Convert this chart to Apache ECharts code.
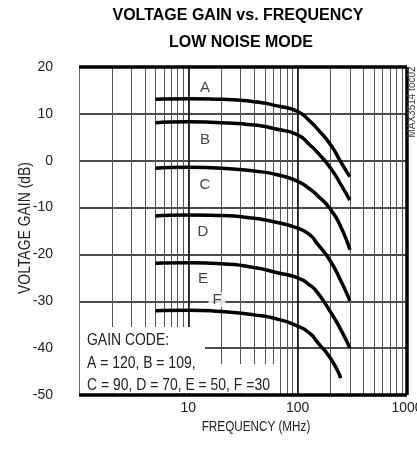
<!DOCTYPE html>
<html>
<head>
<meta charset="utf-8">
<script src="https://cdn.jsdelivr.net/npm/echarts@6/dist/echarts.min.js"></script>
<style>
html,body{margin:0;padding:0;background:#fff;}
#c{width:417px;height:452px;}
</style>
</head>
<body>
<div id="c"></div>
<script>
// ---- data ----
const freqs = [5, 10, 20, 40, 65, 100, 130, 150, 200, 250, 300];
const freqsF = [5, 10, 20, 40, 65, 100, 130, 150, 200, 248];
const curveA = [13.1, 13.2, 13.1, 12.6, 11.7, 10.5, 8.4, 6.9, 3.4, -0.4, -3.4];
const curveB = [8.1, 8.3, 8.1, 7.6, 6.7, 5.5, 3.3, 1.9, -1.6, -5.2, -8.4];
const curveC = [-1.6, -1.4, -1.6, -2.2, -3.0, -4.4, -6.1, -7.3, -10.4, -14.3, -19.0];
const curveD = [-11.8, -11.6, -11.7, -12.3, -13.2, -14.4, -15.9, -17.6, -21.5, -25.8, -29.9];
const curveE = [-21.9, -21.8, -22.0, -22.8, -23.9, -25.0, -26.6, -28.0, -32.3, -36.2, -40.0];
const curveF = [-32.0, -31.9, -32.2, -32.9, -33.8, -35.3, -36.9, -38.6, -42.2, -46.4];
const curveNames = ['A', 'B', 'C', 'D', 'E', 'F'];
const labelFreq = [14.2, 14.2, 14.2, 13.6, 13.6, 18.3];
const labelGain = [15.5, 4.4, -5.2, -15.2, -25.2, -29.7];
const minorFreqs = [2,3,4,5,6,7,8,9,20,30,40,50,60,70,80,90,200,300,400,500,600,700,800,900];
const xTickLabels = ['10', '100', '1000'];
const yMin = -50, yMax = 20, yStep = 10;
const titleLines = ['VOLTAGE GAIN vs. FREQUENCY', 'LOW NOISE MODE'];
const legendLines = ['GAIN CODE:', 'A = 120, B = 109,', 'C = 90, D = 70, E = 50, F =30'];

const SANS = "'Liberation Sans',Arial,sans-serif";

function pairs(xs, ys) { return xs.map((x, i) => [x, ys[i]]); }
const curves = [curveA, curveB, curveC, curveD, curveE, curveF];
const curveSeries = curves.map((c, i) => ({
  type: 'line',
  name: curveNames[i],
  data: pairs(i === 5 ? freqsF : freqs, c),
  smooth: 0.6,
  symbol: 'none',
  lineStyle: { color: '#000', width: 3.5 },
  z: 5,
  animation: false
}));

const minorLines = minorFreqs.map(f => ({ xAxis: f, lineStyle: { color: '#555', width: 1, type: 'solid' } }));
const decadeLines = [10, 100].map(f => ({ xAxis: f, lineStyle: { color: '#111', width: 1.6, type: 'solid' } }));
const borderLines = [
  { xAxis: 1000, lineStyle: { color: '#000', width: 3.5, type: 'solid' } },
  { yAxis: yMax, lineStyle: { color: '#000', width: 3.5, type: 'solid' } },
  { yAxis: yMin, lineStyle: { color: '#000', width: 3.5, type: 'solid' } }
];

function ntext(x, y, text, size, sx, extra) {
  return Object.assign({
    type: 'text', x: x, y: y, z: 60, scaleX: sx,
    style: { text: text, align: 'left', verticalAlign: 'middle', font: size + 'px ' + SANS, fill: '#222' }
  }, extra || {});
}

const option = {
  backgroundColor: '#fff',
  animation: false,
  grid: { left: 79, right: 10, top: 67, bottom: 57, outerBoundsMode: 'none', containLabel: false },
  xAxis: {
    type: 'log', logBase: 10, min: 1, max: 1000,
    axisLine: { show: false },
    axisTick: { show: false },
    splitLine: { show: true, lineStyle: { color: '#666', width: 1 } },
    axisLabel: {
      margin: 6,
      fontFamily: SANS, fontSize: 14, color: '#222',
      formatter: v => (xTickLabels.indexOf(String(v)) >= 0 ? String(v) : '')
    }
  },
  yAxis: {
    type: 'value', min: yMin, max: yMax, interval: yStep,
    axisLine: { show: false },
    axisTick: { show: false },
    splitLine: { show: true, lineStyle: { color: '#111', width: 1.5 } },
    axisLabel: { margin: 26, fontFamily: SANS, fontSize: 14, color: '#222' }
  },
  series: [
    {
      type: 'line', data: [], silent: true,
      markLine: {
        silent: true, symbol: 'none', animation: false,
        label: { show: false },
        data: minorLines.concat(decadeLines, borderLines)
      },
      z: 3
    }
  ].concat(curveSeries, [
    {
      type: 'scatter',
      symbolSize: 1,
      itemStyle: { color: 'rgba(0,0,0,0)' },
      silent: true,
      z: 20,
      data: curveNames.map((n, i) => ({
        value: [labelFreq[i], labelGain[i]],
        name: n,
        label: n === 'F' ? { backgroundColor: '#fff', padding: [0, 4] } : {}
      })),
      label: {
        show: true, position: 'inside',
        formatter: p => p.name,
        fontFamily: SANS, fontSize: 15, color: '#111'
      }
    }
  ]),
  graphic: [
    { type: 'text', x: 238, y: 16, z: 100, style: { text: titleLines[0], align: 'center', verticalAlign: 'middle', font: "bold 16px " + SANS, fill: '#000' } },
    { type: 'text', x: 241, y: 43, z: 100, style: { text: titleLines[1], align: 'center', verticalAlign: 'middle', font: "bold 16px " + SANS, fill: '#000' } },
    { type: 'rect', z: 50, shape: { x: 80, y: 327, width: 125, height: 37 }, style: { fill: '#fff' } },
    { type: 'rect', z: 50, shape: { x: 80, y: 364, width: 200, height: 29 }, style: { fill: '#fff' } },
    ntext(87, 340, legendLines[0], 17, 0.82),
    ntext(87, 363, legendLines[1], 17, 0.82),
    ntext(87, 385, legendLines[2], 17, 0.82),
    { type: 'text', x: 256, y: 427, z: 60, scaleX: 0.78, style: { text: 'FREQUENCY (MHz)', align: 'center', verticalAlign: 'middle', font: "15px " + SANS, fill: '#222' } },
    { type: 'text', x: 25, y: 228, z: 60, rotation: Math.PI / 2, scaleX: 0.82, style: { text: 'VOLTAGE GAIN (dB)', align: 'center', verticalAlign: 'middle', font: "17px " + SANS, fill: '#222' } },
    { type: 'text', x: 412, y: 102, rotation: Math.PI / 2, z: 60, style: { text: 'MAX3514 toc02', align: 'center', verticalAlign: 'middle', font: "10px " + SANS, fill: '#444' } }
  ]
};

const chart = echarts.init(document.getElementById('c'), null, { renderer: 'canvas' });
chart.setOption(option);
</script>
</body>
</html>
